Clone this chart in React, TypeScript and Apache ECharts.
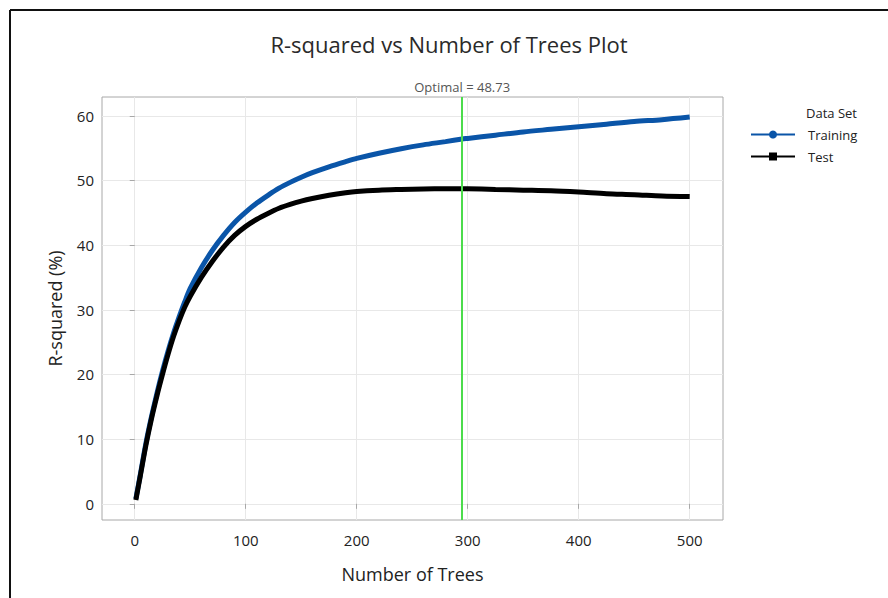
import React, { useEffect, useRef } from "react";
import * as echarts from "echarts";

// Number of trees at which R-squared was sampled
const trees = [1, 5, 10, 15, 20, 25, 30, 35, 40, 45, 50, 60, 70, 80, 90, 100, 110, 120, 130, 140, 150, 160, 175, 190, 200, 220, 240, 260, 280, 295, 300, 325, 350, 375, 400, 425, 450, 475, 500];

// R-squared (%) on the training set
const trainingR2 = [0.8, 4.5, 9.3, 13.4, 17.1, 20.5, 23.6, 26.4, 28.9, 31.2, 33.3, 36.5, 39.2, 41.5, 43.5, 45.1, 46.5, 47.7, 48.8, 49.7, 50.5, 51.2, 52.1, 52.9, 53.4, 54.2, 54.9, 55.5, 56.0, 56.4, 56.5, 57.0, 57.5, 57.9, 58.3, 58.7, 59.1, 59.4, 59.8];

// R-squared (%) on the test set
const testR2 = [0.6, 4.3, 9.0, 13.1, 16.7, 20.0, 23.1, 25.9, 28.3, 30.4, 32.1, 35.0, 37.5, 39.7, 41.5, 42.9, 44.0, 44.9, 45.7, 46.3, 46.8, 47.2, 47.7, 48.1, 48.3, 48.5, 48.6, 48.68, 48.71, 48.73, 48.72, 48.6, 48.5, 48.4, 48.2, 47.95, 47.8, 47.6, 47.5];

const xTicks = [0, 100, 200, 300, 400, 500];
const yTicks = [0, 10, 20, 30, 40, 50, 60];

const optimalTrees = 295;
const optimalR2 = 48.73;

const FONT = "'Open Sans', 'Noto Sans', sans-serif";

export default function App() {
  const ref = useRef<HTMLDivElement>(null);

  useEffect(() => {
    if (!ref.current) return;
    const chart = echarts.init(ref.current, null, { renderer: "svg" });

    const axisLabelStyle = { color: "#222", fontSize: 15, fontFamily: FONT };

    chart.setOption({
      animation: false,
      backgroundColor: "#fff",
      textStyle: { fontFamily: FONT },
      title: {
        text: "R-squared vs Number of Trees Plot",
        left: 444,
        textAlign: "center",
        top: 28,
        textStyle: { fontSize: 22, fontWeight: "normal", color: "#2a2a2a", fontFamily: FONT },
      },
      legend: {
        orient: "vertical",
        left: 745,
        top: 123,
        itemWidth: 44,
        itemHeight: 10,
        itemGap: 9,
        textStyle: { fontSize: 13, color: "#222", fontFamily: FONT, padding: [0, 0, 0, 8] },
        data: ["Training", "Test"],
      },
      graphic: [
        {
          type: "text",
          left: 806,
          top: 106,
          style: { text: "Data Set", fontSize: 13, fill: "#222", fontFamily: FONT },
        },
        {
          type: "line",
          shape: { x1: 10, y1: 10, x2: 888, y2: 10 },
          style: { stroke: "#111", lineWidth: 2 },
        },
        {
          type: "line",
          shape: { x1: 10, y1: 10, x2: 10, y2: 598 },
          style: { stroke: "#111", lineWidth: 2 },
        },
      ],
      grid: {
        left: 102,
        top: 97,
        right: 165,
        bottom: 78,
        show: true,
        borderColor: "#a8a8a8",
        borderWidth: 1,
        containLabel: false,
      },
      xAxis: {
        type: "value",
        min: -29.5,
        max: 530,
        name: "Number of Trees",
        nameLocation: "middle",
        nameGap: 45,
        nameTextStyle: { fontSize: 18, color: "#222", fontFamily: FONT },
        axisLine: { show: false },
        axisTick: { show: true, customValues: xTicks, length: 5, lineStyle: { color: "#a8a8a8" } },
        axisLabel: { ...axisLabelStyle, customValues: xTicks, margin: 12 },
        splitLine: { show: true, lineStyle: { color: "#e8e8e8", width: 1 } },
      },
      yAxis: {
        type: "value",
        min: -2.5,
        max: 62.9,
        name: "R-squared (%)",
        nameLocation: "middle",
        nameGap: 38,
        nameRotate: 90,
        nameTextStyle: { fontSize: 18, color: "#222", fontFamily: FONT },
        axisLine: { show: false },
        axisTick: { show: true, customValues: yTicks, length: 5, lineStyle: { color: "#a8a8a8" } },
        axisLabel: { ...axisLabelStyle, customValues: yTicks, margin: 8 },
        splitLine: { show: true, lineStyle: { color: "#e8e8e8", width: 1 } },
      },
      series: [
        {
          name: "Training",
          type: "line",
          data: trees.map((t, i) => [t, trainingR2[i]]),
          smooth: 0.3,
          symbol: "circle",
          symbolSize: 10,
          showSymbol: false,
          color: "#0a55a8",
          lineStyle: { width: 5, color: "#0a55a8" },
          z: 3,
        },
        {
          name: "Test",
          type: "line",
          data: trees.map((t, i) => [t, testR2[i]]),
          smooth: 0.3,
          symbol: "rect",
          symbolSize: 10,
          showSymbol: false,
          color: "#000",
          lineStyle: { width: 5, color: "#000" },
          z: 4,
          markLine: {
            silent: true,
            symbol: "none",
            lineStyle: { color: "#4cdc4c", width: 2, type: "solid" },
            label: {
              show: true,
              position: "end",
              distance: 4,
              formatter: "Optimal = " + optimalR2.toFixed(2),
              color: "#555",
              fontSize: 13,
              fontFamily: FONT,
            },
            data: [{ xAxis: optimalTrees }],
          },
        },
      ],
    });

    return () => chart.dispose();
  }, []);

  return (
    <div
      ref={ref}
      style={{ position: "fixed", left: 0, top: 0, width: 888, height: 598 }}
    />
  );
}
